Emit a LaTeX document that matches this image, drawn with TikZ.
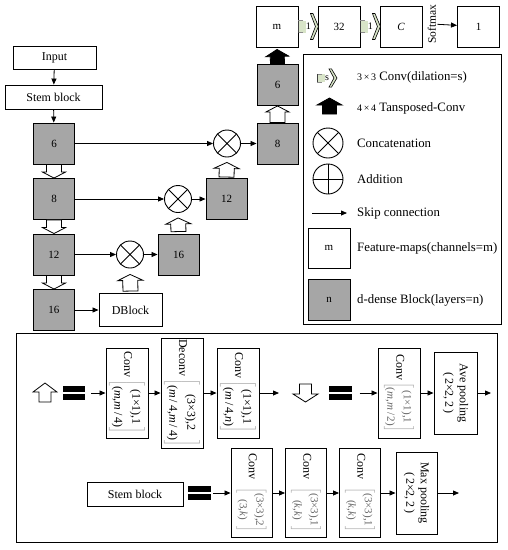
\documentclass[tikz,border=0pt]{standalone}
\usepackage{fontspec}
\setmainfont{Liberation Serif}
\usetikzlibrary{arrows.meta,calc}
\definecolor{blockgray}{RGB}{166,166,166}
\definecolor{convgreen}{RGB}{216,228,200}
\newcommand\myfs[1]{\fontsize{#1}{\dimexpr#1pt*6/5\relax}\selectfont}
% rotated bracket content: [font]{content colour}{row1}{row2}
\newcommand\brk[4][]{{#1\renewcommand\arraystretch{1.25}$\color{gray!70}\left[\begin{tabular}{@{}c@{}}\color{#2}#3\\\color{#2}#4\end{tabular}\right]$}}
% block arrow: [style]{start}{tip}{shaft half width}{head half width}{head length}
\newcommand\blockarrow[6][]{%
  \path (#2) coordinate (bas) (#3) coordinate (bat);
  \path ($(bat)!#6!(bas)$) coordinate (bah);
  \draw[line width=0.8pt, fill=white, line join=miter, #1]
    ($(bas)!#4!90:(bat)$) -- ($(bah)!#4!90:(bat)$) -- ($(bah)!#5!90:(bat)$) -- (bat)
    -- ($(bah)!#5!-90:(bat)$) -- ($(bah)!#4!-90:(bat)$) -- ($(bas)!#4!-90:(bat)$) -- cycle;
}
% equals sign made of two thick bars inside a named node
\newcommand\eqbars[1]{%
  \fill (#1.north west) rectangle ([yshift=0.9pt]#1.east);
  \fill ([yshift=-0.9pt]#1.west) rectangle (#1.south east);
}
\tikzset{
  box/.style={draw, line width=0.9pt, fill=white, inner sep=1pt, font=\myfs{12}},
  gblock/.style={box, fill=blockgray, minimum width=41pt, minimum height=41pt, font=\myfs{11}},
  fmap/.style={box, minimum width=42pt, minimum height=41pt, font=\myfs{11}},
  skip/.style={line width=0.8pt, -{Triangle[length=6pt,width=5pt]}},
  concat/.style={circle, draw, line width=0.9pt, fill=white, minimum size=#1, inner sep=0,
    path picture={\draw[line width=0.9pt] (path picture bounding box.north west) -- (path picture bounding box.south east)
      (path picture bounding box.north east) -- (path picture bounding box.south west);}},
  concat/.default=27pt,
  addition/.style={circle, draw, line width=0.9pt, fill=white, minimum size=#1, inner sep=0,
    path picture={\draw[line width=0.9pt] (path picture bounding box.north) -- (path picture bounding box.south)
      (path picture bounding box.east) -- (path picture bounding box.west);}},
  addition/.default=27pt,
  legtext/.style={anchor=west, inner sep=0, font=\myfs{12.8}},
  rbox/.style={draw, line width=0.9pt, fill=white, rotate=-90, inner sep=1pt, font=\myfs{12}},
  eqsign/.style={minimum width=22pt, minimum height=14pt, inner sep=0},
  pics/dilconv/.style={code={
    \fill[convgreen] (0,-6) rectangle (8,6);
    \draw[black!45, line width=0.6pt] (5,-6) -- (0,-6) -- (0,6) -- (5,6);
    \draw[black!75, line width=0.9pt] (0,-6) -- (0,6);
    \draw[fill=convgreen, line width=0.6pt, line join=miter] (12,-13) -- (14.5,-13) -- (20,0) -- (14.5,13) -- (12,13) -- (17,0) -- cycle;
    \node[font=\myfs{10}, inner sep=0] at (10,0) {#1};
  }}
}
\begin{document}
\begin{tikzpicture}[x=1pt,y=-1pt]
\useasboundingbox (0,0) rectangle (508,550);
% ---------- main network ----------
\node[box, minimum width=83pt, minimum height=23pt] (inp) at (54.5,57.5) {Input};
\node[box, minimum width=97pt, minimum height=24pt] (stem) at (53.5,97) {Stem block};
\node[gblock] (L6) at (54,143.5) {6};
\node[gblock] (L8) at (54,199) {8};
\node[gblock] (L12) at (54,254.5) {12};
\node[gblock] (L16) at (54,310) {16};
\node[box, minimum width=63pt, minimum height=33pt] (db) at (130.5,310) {DBlock};
\node[concat] (c3) at (130,254.5) {};
\node[concat] (c2) at (178,199) {};
\node[concat] (c1) at (227,143.5) {};
\node[gblock] (R16) at (178.5,254.5) {16};
\node[gblock] (R12) at (226.5,199) {12};
\node[gblock] (R8) at (277.5,143.5) {8};
\node[gblock] (R6) at (277.5,85) {6};
\node[fmap] (fm) at (277,26.5) {m};
\node[fmap] (f32) at (339,26.5) {32};
\node[fmap] (fC) at (401,26.5) {\textit{C}};
\node[rotate=90, inner sep=1pt, font=\myfs{11.5}] (smax) at (432,24) {Softmax};
\node[fmap] (f1) at (478.5,26.5) {1};

\draw[skip] (inp) -- (stem);
\draw[skip] (stem) -- (L6);
\draw[skip] (L6) -- (c1);
\draw[skip] (c1) -- (R8);
\draw[skip] (L8) -- (c2);
\draw[skip] (c2) -- (R12);
\draw[skip] (L12) -- (c3);
\draw[skip] (c3) -- (R16);
\draw[skip] (L16) -- (db);
\draw[skip] (smax) -- (f1);

\blockarrow{L6.south}{L8.north}{7.5pt}{11.5pt}{6pt}
\blockarrow{L8.south}{L12.north}{7.5pt}{11.5pt}{6pt}
\blockarrow{L12.south}{L16.north}{7.5pt}{11.5pt}{6pt}
\blockarrow{$(db.north)!2pt!(c3.south)$}{$(c3.south)!6pt!(db.north)$}{7.5pt}{12.5pt}{6pt}
\blockarrow{$(R16.north)!2pt!(c2.south)$}{$(c2.south)!5pt!(R16.north)$}{7.5pt}{12.5pt}{6pt}
\blockarrow{$(R12.north)!1pt!(c1.south)$}{$(c1.south)!5pt!(R12.north)$}{7.5pt}{12.5pt}{6pt}
\blockarrow{R8.north}{R6.south}{7.5pt}{11.5pt}{6pt}
\blockarrow[fill=black]{R6.north}{$(fm.south)!2pt!(R6.north)$}{7pt}{11.5pt}{7pt}

\pic at (fm.east) {dilconv=1};
\pic at (f32.east) {dilconv=1};

% ---------- legend ----------
\node[draw, line width=0.9pt, minimum width=198pt, minimum height=270pt, inner sep=0] (leg) at (402,189) {};
\pic[yscale=0.7] at (317,78) {dilconv=s};
\node[legtext] (lt1) at (357,77) {{\myfs{10}3\,×\,3}\ Conv(dilation=s)};
\blockarrow[fill=black]{329.5,114}{329.5,98}{7pt}{12.5pt}{7pt}
\node[legtext] (lt2) at (357,108) {{\myfs{10}4\,×\,4}\ Tansposed-Conv};
\node[concat=30pt] (lc) at (328,143) {};
\node[legtext] (lt3) at (357,143) {Concatenation};
\node[addition=30pt] (la) at (328,179) {};
\node[legtext] (lt4) at (357,179) {Addition};
\coordinate (sk1) at (312,213);
\coordinate (sk2) at (347,213);
\draw[skip] (sk1) -- (sk2);
\node[legtext] (lt5) at (357,213) {Skip connection};
\node[fmap, minimum height=40pt] (lm) at (329,248) {m};
\node[legtext] (lt6) at (357,248) {Feature-maps(channels=m)};
\node[gblock, minimum width=42pt] (ln) at (329,299.5) {n};
\node[legtext] (lt7) at (357,300) {d-dense Block(layers=n)};

% ---------- bottom box ----------
\node[draw, line width=0.9pt, minimum width=481pt, minimum height=209pt, inner sep=0] (bot) at (256.5,437.5) {};
% row 1
\blockarrow{45,402}{45,383}{6pt}{12pt}{9pt}
\node[eqsign] (eq1) at (74,393) {};
\eqbars{eq1}
\node[rbox, minimum width=90pt, minimum height=42pt] (cv1) at (127,393)
  {Conv\,\brk{black}{(1×1),1}{(\textit{m},\textit{m}\,/\,4)}};
\node[rbox, minimum width=110pt, minimum height=42pt] (dcv) at (182,393)
  {Deconv\,\brk{black}{(3×3),2}{(\textit{m}\,/\,4,\textit{m}\,/\,4)}};
\node[rbox, minimum width=90pt, minimum height=42pt] (cv3) at (238,393)
  {Conv\,\brk{black}{(1×1),1}{(\textit{m}\,/\,4,\textit{n})}};
\coordinate (o1) at (279,393);
\draw[skip, shorten <=6pt] (eq1) -- (cv1);
\draw[skip] (cv1) -- (dcv);
\draw[skip] (dcv) -- (cv3);
\draw[skip] (cv3) -- (o1);
\blockarrow{305.5,384}{305.5,402}{6pt}{12.5pt}{8pt}
\node[eqsign] (eq2) at (340.5,393) {};
\eqbars{eq2}
\node[rbox, minimum width=90pt, minimum height=42pt] (cv4) at (399,393)
  {Conv\,\brk[\myfs{11}]{black!60}{(1×1),1}{(\textit{m},\textit{m}\,/\,2)}};
\node[rbox, minimum width=82pt, minimum height=43pt, align=center] (ap) at (455.5,393)
  {Ave pooling\\(\,2×2,\,2\,)};
\coordinate (o2) at (491,393);
\draw[skip, shorten <=8pt] (eq2) -- (cv4);
\draw[skip] (cv4) -- (ap);
\draw[skip] (ap) -- (o2);
% row 2
\node[box, minimum width=96pt, minimum height=24pt] (stem2) at (135,494) {Stem block};
\node[eqsign] (eq3) at (199.5,493) {};
\eqbars{eq3}
\node[rbox, minimum width=89pt, minimum height=41pt] (ca) at (251.5,493)
  {Conv\hspace{8pt}\brk[\myfs{11}]{black!60}{(3×3),2}{(3,\textit{k})}};
\node[rbox, minimum width=89pt, minimum height=41pt] (cb) at (306,493)
  {Conv\hspace{8pt}\brk[\myfs{11}]{black!60}{(3×3),1}{(\textit{k},\textit{k})}};
\node[rbox, minimum width=89pt, minimum height=41pt] (cc) at (360,493)
  {Conv\hspace{8pt}\brk[\myfs{11}]{black!60}{(3×3),1}{(\textit{k},\textit{k})}};
\node[rbox, minimum width=82pt, minimum height=41pt, align=center] (mp) at (416.5,493)
  {Max pooling\\(\,2×2,\,2\,)};
\coordinate (o3) at (459,493);
\draw[skip, shorten <=2.5pt] (eq3) -- (ca);
\draw[skip] (ca) -- (cb);
\draw[skip] (cb) -- (cc);
\draw[skip] (cc) -- (mp);
\draw[skip] (mp) -- (o3);
\end{tikzpicture}
\end{document}
